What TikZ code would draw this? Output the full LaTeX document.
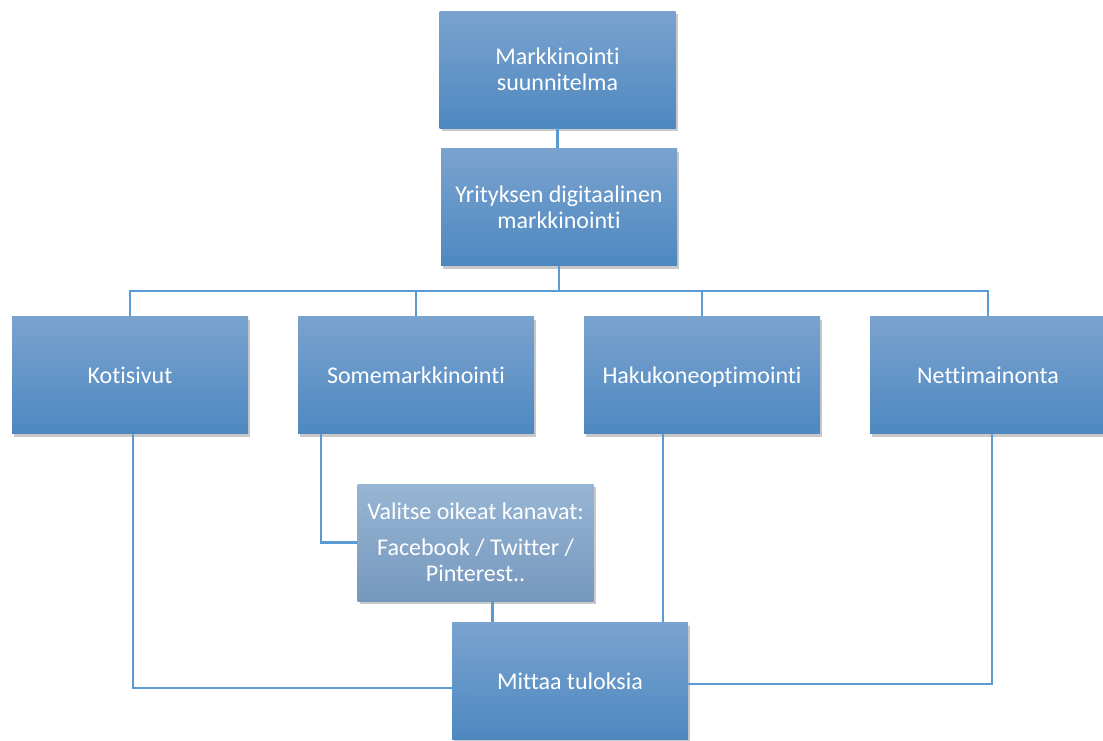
\documentclass[tikz,border=0pt]{standalone}
\usepackage{fontspec}
\setmainfont{Carlito}[Ligatures={NoCommon}]
\usetikzlibrary{shadows}
\definecolor{linec}{RGB}{91,155,213}
\definecolor{boxtop}{RGB}{122,163,207}
\definecolor{boxbot}{RGB}{78,136,192}
\definecolor{valtop}{RGB}{152,181,211}
\definecolor{valbot}{RGB}{118,152,190}
\begin{document}
\begin{tikzpicture}[x=1pt,y=-1pt,
  box/.style={rectangle, minimum width=236pt, minimum height=117pt, inner sep=2pt,
    top color=boxtop, bottom color=boxbot, text=white, align=center,
    font=\fontsize{24}{26}\selectfont,
    drop shadow={shadow xshift=2pt, shadow yshift=-3pt, opacity=0.3, fill=black!70}},
  single/.style={box, text height=20pt, text depth=3pt},
  valbox/.style={box, top color=valtop, bottom color=valbot},
  conn/.style={draw=linec, line width=2.4pt}]
\useasboundingbox (0,0) rectangle (1103,740);
\node[box] (top) at (557.5,69.5) {Markkinointi\\suunnitelma};
\node[box] (dig) at (559,207) {Yrityksen digitaalinen\\markkinointi};
\node[single] (kot) at (130,375) {Kotisivut};
\node[single] (som) at (416,375) {Somemarkkinointi};
\node[single] (hak) at (702,375) {Hakukoneoptimointi};
\node[single] (net) at (988,375) {Nettimainonta};
\node[valbox] (val) at (475.5,542.5) {Valitse oikeat kanavat:\\[10pt]Facebook / Twitter /\\Pinterest..};
\node[single] (mit) at (570,681) {Mittaa tuloksia};
\coordinate (bus) at (559,291);
\coordinate (mitL) at (467,688);
\coordinate (mitR) at (688,684);
\draw[conn] (top.south) -- (top.south |- dig.north);
\draw[conn] (dig.south) -- (bus);
\draw[conn] (kot.north) -- (kot.north |- bus) -- (net.north |- bus) -- (net.north);
\draw[conn] (som.north) -- (som.north |- bus);
\draw[conn] (hak.north) -- (hak.north |- bus);
\draw[conn] ([xshift=3pt]kot.south) |- (mitL);
\draw[conn] ([xshift=23pt]som.south west) |- (val.west);
\draw[conn] ([xshift=17pt]val.south) -- ([xshift=17pt]val.south |- mit.north);
\draw[conn] ([xshift=79pt]hak.south west) -- ([xshift=79pt]hak.south west |- mit.north);
\draw[conn] ([xshift=4pt]net.south) |- (mitR);
\end{tikzpicture}
\end{document}
